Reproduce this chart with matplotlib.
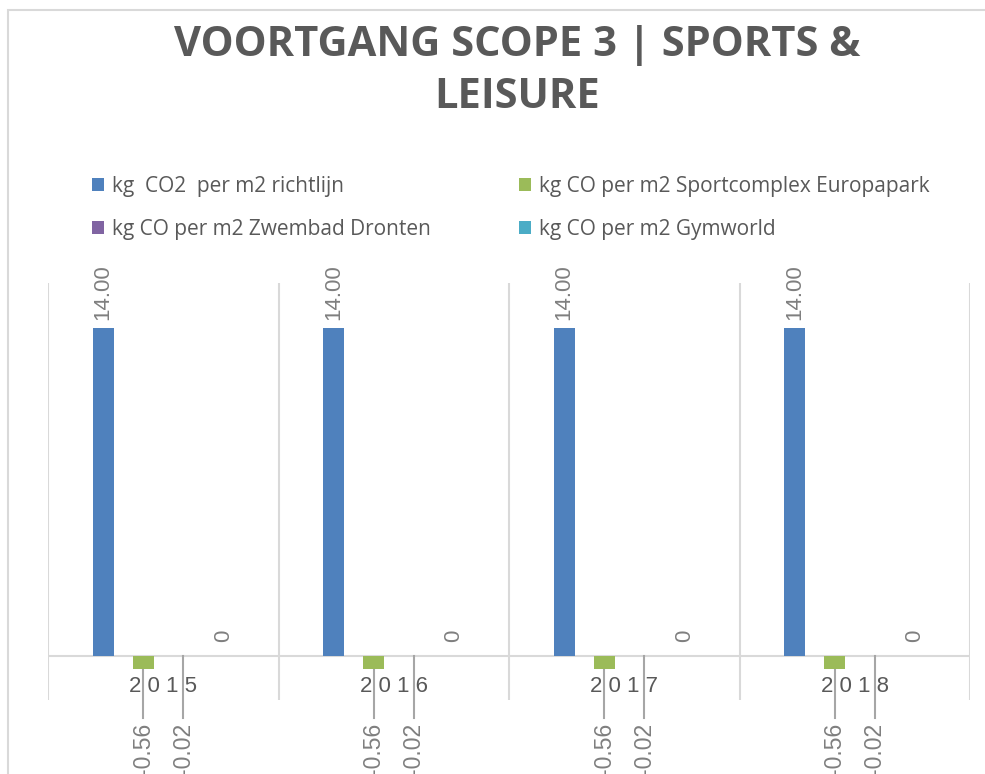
import matplotlib
matplotlib.use("Agg")
import matplotlib.pyplot as plt
import numpy as np
from matplotlib.patches import Rectangle

# Data
years = ["2015", "2016", "2017", "2018"]
series_names = [
    "kg  CO2  per m2 richtlijn",
    "kg CO per m2 Sportcomplex Europapark",
    "kg CO per m2 Zwembad Dronten",
    "kg CO per m2 Gymworld",
]
richtlijn = [14.00, 14.00, 14.00, 14.00]
europapark = [-0.56, -0.56, -0.56, -0.56]
zwembad = [-0.02, -0.02, -0.02, -0.02]
gymworld = [0, 0, 0, 0]
label_fmt = ["{:.2f}", "{:.2f}", "{:.2f}", "{:g}"]
colors = ["#4f81bd", "#9bbb59", "#8064a2", "#4bacc6"]

TEXT = "#595959"
LABEL = "#7f7f7f"
GRID = "#d9d9d9"

W, H = 985, 774
fig = plt.figure(figsize=(W / 100, H / 100), dpi=100)


def fx(px):
    return px / W


def fy(py):
    return 1 - py / H


# chart frame
fig.patches.append(Rectangle((fx(8), fy(1000)), 1.2, fy(10) - fy(1000),
                             transform=fig.transFigure, fill=False,
                             edgecolor=GRID, lw=1.5))

# plot area
ax = fig.add_axes([fx(48), fy(700), fx(970) - fx(48), fy(283) - fy(700)])
ymin, ymax = -1.88, 15.92
ax.set_xlim(-0.5, len(years) - 0.5)
ax.set_ylim(ymin, ymax)
for s in ax.spines.values():
    s.set_visible(False)
ax.set_xticks([])
ax.set_yticks([])
for b in np.arange(-0.5, len(years), 1.0):
    ax.axvline(b, color=GRID, lw=1.5, zorder=0)
ax.axhline(0, color=GRID, lw=1.5, zorder=1)


def py2data(py):
    return ymin + (700 - py) / 417 * (ymax - ymin)


x = np.arange(len(years))
step = 0.174
width = 0.091
all_series = [richtlijn, europapark, zwembad, gymworld]
bars = []
for k, (vals, c) in enumerate(zip(all_series, colors)):
    xs = x + (k - 1.5) * step
    b = ax.bar(xs, vals, width=width, color=c, zorder=2, label=series_names[k])
    bars.append(b)
    for xi, v in zip(xs, vals):
        txt = label_fmt[k].format(v)
        if v > 0:
            ax.text(xi, v + 0.35, txt, rotation=90, ha="center", va="bottom",
                    fontsize=16, color=LABEL, family="Liberation Sans")
        elif v == 0:
            ax.text(xi, 0.6, txt, rotation=90, ha="center", va="bottom",
                    fontsize=16, color=LABEL, family="Liberation Sans")
        else:
            # label pushed below the plot area with a leader line
            ax.plot([xi, xi], [v, py2data(718)], color="#a6a6a6", lw=1.5,
                    clip_on=False, zorder=1)
            ax.text(xi, py2data(723), txt, rotation=90, ha="center", va="top",
                    fontsize=16.5, color=LABEL, family="Liberation Sans",
                    clip_on=False)

for xi, yr in zip(x, years):
    ax.text(xi, py2data(687), " ".join(yr), ha="center", va="center",
            fontsize=16, color=TEXT, family="Liberation Sans")

# title
fig.text(fx(517), fy(45), "VOORTGANG SCOPE 3 | SPORTS &", ha="center",
         va="center", fontsize=30, fontweight="bold", color=TEXT,
         family="Open Sans")
fig.text(fx(517), fy(97), "LEISURE", ha="center", va="center", fontsize=30,
         fontweight="bold", color=TEXT, family="Open Sans")

# legend, two columns
leg_kw = dict(loc="upper left", frameon=False, handlelength=0.6,
              handleheight=0.6, handletextpad=0.35, labelspacing=1.05,
              labelcolor=TEXT, prop={"family": "Open Sans", "size": 15})
fig.legend([bars[0], bars[2]], [series_names[0], series_names[2]],
           bbox_to_anchor=(fx(73), fy(157)), **leg_kw)
fig.legend([bars[1], bars[3]], [series_names[1], series_names[3]],
           bbox_to_anchor=(fx(500), fy(157)), **leg_kw)

fig.savefig("out.png", dpi=100)
